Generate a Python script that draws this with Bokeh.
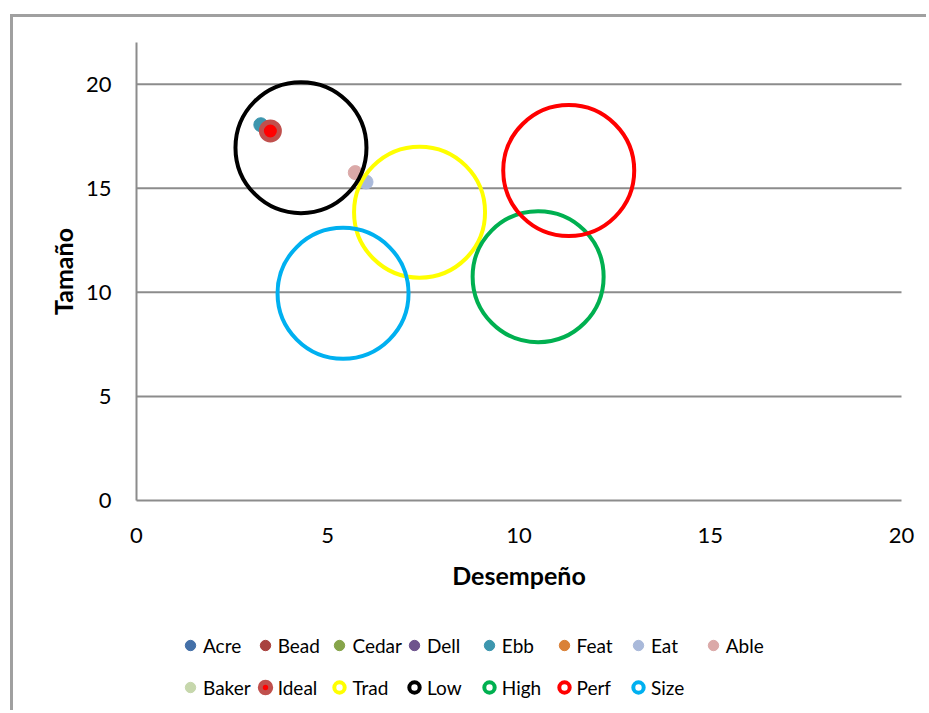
import math
from bokeh.plotting import figure
from bokeh.models import Legend, LegendItem, FixedTicker, Range1d, Label
from bokeh.embed import file_html
from bokeh.resources import INLINE

# ---- data ----
point_names = ["Acre", "Bead", "Cedar", "Dell", "Feat", "Baker", "Ebb", "Able", "Eat", "Ideal"]
point_x = [3.5, 3.5, 3.5, 3.5, 3.5, 3.5, 3.25, 5.72, 6.0, 3.5]
point_y = [17.75, 17.75, 17.75, 17.75, 17.75, 17.75, 18.05, 15.75, 15.3, 17.75]
point_colors = ["#4470A8", "#A8423F", "#86A44A", "#6E548D", "#DA8137", "#C6D7AC",
                "#3D96AE", "#DBA9A8", "#A9B9DA", "#FF0000"]

ring_names = ["Trad", "Low", "High", "Perf", "Size"]
ring_x = [7.4, 4.3, 10.5, 11.3, 5.4]
ring_y = [13.85, 16.95, 10.75, 15.85, 9.95]
ring_colors = ["#FFFF00", "#000000", "#00B050", "#FF0000", "#00B0F0"]

x_ticks = [0, 5, 10, 15, 20]
y_ticks = [0, 5, 10, 15, 20]
y_axis_max = 22

legend_rows = [
    ["Acre", "Bead", "Cedar", "Dell", "Ebb", "Feat", "Eat", "Able"],
    ["Baker", "Ideal", "Trad", "Low", "High", "Perf", "Size"],
]

FONT = "Lato"

# ---- layout, in page pixels ----
canvas_left, canvas_top = 13, 17
W, H = 916, 696
axis_x0_page, axis_x1_page = 136, 901     # x = 0 and x = 20
axis_y0_page, axis_ytop_page = 500, 42    # y = 0 and y = 22
xs = (axis_x1_page - axis_x0_page) / (x_ticks[-1] - x_ticks[0])
ys = (axis_y0_page - axis_ytop_page) / y_axis_max
x_min = -(axis_x0_page - canvas_left) / xs
x_max = x_ticks[-1] + (canvas_left + W - axis_x1_page) / xs
y_min = -(canvas_top + H - axis_y0_page) / ys
y_max = y_axis_max + (axis_ytop_page - canvas_top) / ys

p = figure(width=W, height=H, x_range=Range1d(x_min, x_max), y_range=Range1d(y_min, y_max),
           output_backend="svg", toolbar_location=None,
           min_border_left=0, min_border_right=0, min_border_top=0, min_border_bottom=0)
p.styles = {"margin-left": "10px", "margin-top": "14px",
            "border-left": "3px solid #a0a0a0", "border-top": "3px solid #a0a0a0"}
p.outline_line_color = None
p.background_fill_color = "white"
p.border_fill_color = "white"
p.grid.visible = False

for ax in (p.xaxis[0], p.yaxis[0]):
    ax.fixed_location = 0
    ax.major_tick_line_color = None
    ax.minor_tick_line_color = None
    ax.major_tick_out = 0
    ax.major_tick_in = 0
    ax.axis_line_color = "#8c8c8c"
    ax.axis_line_width = 2
    ax.major_label_text_font = FONT
    ax.major_label_text_font_size = "22px"
    ax.major_label_text_color = "black"

p.xaxis.ticker = FixedTicker(ticks=x_ticks)
p.yaxis.ticker = FixedTicker(ticks=y_ticks)
p.xaxis.bounds = (x_ticks[0], x_ticks[-1])
p.yaxis.bounds = (0, y_axis_max)
p.xaxis.major_label_standoff = 27
p.yaxis.major_label_standoff = 25

# horizontal gridlines at the y ticks, spanning the x axis
grid_y = [t for t in y_ticks if t > 0]
p.segment(x0=[x_ticks[0]] * len(grid_y), x1=[x_ticks[-1]] * len(grid_y),
          y0=grid_y, y1=grid_y, line_color="#8c8c8c", line_width=2)

# axis titles
p.add_layout(Label(x=(x_ticks[0] + x_ticks[-1]) / 2, y=0, y_offset=-74, text="Desempeño",
                   text_align="center", text_baseline="middle", text_font=FONT,
                   text_font_size="25px", text_font_style="bold", text_color="black"))
p.add_layout(Label(x=0, y=y_axis_max / 2, x_offset=-74, text="Tamaño", angle=math.pi / 2,
                   text_align="center", text_baseline="middle", text_font=FONT,
                   text_font_size="25px", text_font_style="bold", text_color="black"))

renderers = {}
for name, x, y, c in zip(point_names, point_x, point_y, point_colors):
    if name == "Ideal":
        r = p.scatter([x], [y], size=18, fill_color=c, line_color="#C0504D", line_width=5)
    else:
        r = p.scatter([x], [y], size=14, fill_color=c, line_color=c, line_width=1)
    renderers[name] = r

for name, x, y, c in zip(ring_names, ring_x, ring_y, ring_colors):
    r = p.scatter([x], [y], size=131, fill_color=None, line_color=c, line_width=4)
    renderers[name] = r

# legend columns (each a small vertical legend)
col_centers = [190, 264.7, 339.4, 414, 488.8, 563.5, 638, 712.7]
glyph_w = 26
row_h = 28
gap = 14
top_page = 645 - row_h / 2
frame_bottom_page = canvas_top + H
for k in range(8):
    names = [row[k] for row in legend_rows if k < len(row)]
    items = [LegendItem(label=n, renderers=[renderers[n]]) for n in names]
    n = len(names)
    height = n * row_h + (n - 1) * gap
    bottom_page = top_page + height
    leg = Legend(items=items, orientation="vertical",
                 location=(col_centers[k] - glyph_w / 2 - canvas_left,
                           frame_bottom_page - bottom_page),
                 glyph_width=glyph_w, glyph_height=row_h, label_height=row_h,
                 label_standoff=0, spacing=gap, padding=0, margin=0,
                 border_line_color=None, background_fill_alpha=0,
                 label_text_font=FONT, label_text_font_size="19px",
                 label_text_color="black")
    p.add_layout(leg)

open("out.html", "w").write(file_html(p, INLINE))
